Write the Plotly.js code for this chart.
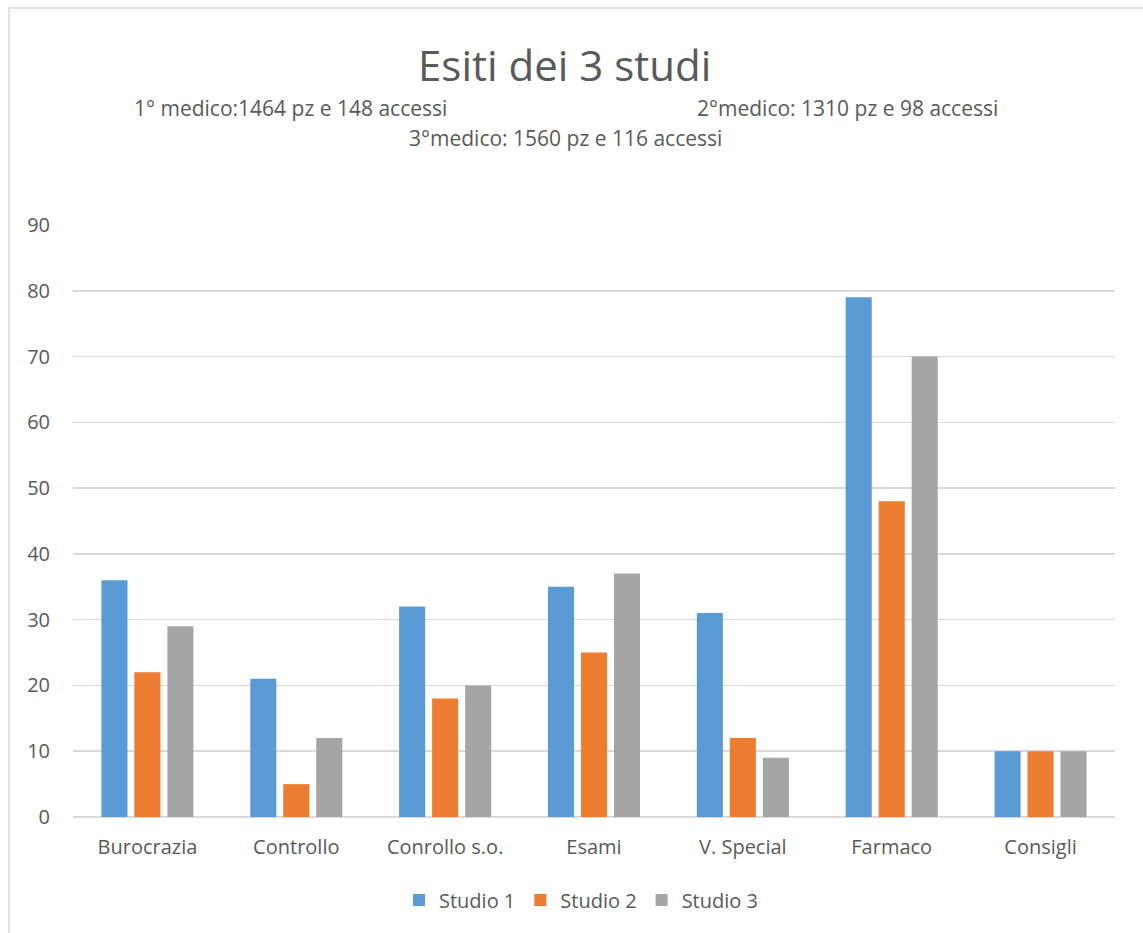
<!DOCTYPE html>
<html>
<head>
<meta charset="utf-8">
<script src="https://cdn.plot.ly/plotly-3.0.1.min.js"></script>
<style>
  html, body { margin: 0; padding: 0; background: #ffffff; }
  #chart { width: 1143px; height: 933px; }
</style>
</head>
<body>
<div id="chart"></div>
<script>
// Categories of visit outcome
const categories = ["Burocrazia", "Controllo", "Conrollo s.o.", "Esami", "V. Special", "Farmaco", "Consigli"];

// Counts per practice
const studio1 = [36, 21, 32, 35, 31, 79, 10];
const studio2 = [22, 5, 18, 25, 12, 48, 10];
const studio3 = [29, 12, 20, 37, 9, 70, 10];

const seriesNames = ["Studio 1", "Studio 2", "Studio 3"];
const seriesColors = ["#5B9BD5", "#ED7D31", "#A5A5A5"];

const yTicks = [0, 10, 20, 30, 40, 50, 60, 70, 80, 90];

const titleText = "Esiti dei 3 studi";
const subtitle1 = "1° medico:1464 pz e 148 accessi";
const subtitle2 = "2°medico: 1310 pz e 98 accessi";
const subtitle3 = "3°medico: 1560 pz e 116 accessi";

const fontFamily = "Open Sans, Noto Sans, sans-serif";
const textColor = "#595959";

const traces = [studio1, studio2, studio3].map((vals, i) => ({
  type: "bar",
  name: seriesNames[i],
  x: categories,
  y: vals,
  marker: { color: seriesColors[i] },
  hoverinfo: "x+y+name"
}));

// plot area spans x 73..1115 and y 225..817 on the page
const px = x => (x - 73) / 1042;
const py = y => (817 - y) / 592;

const layout = {
  width: 1143,
  height: 933,
  margin: { l: 73, r: 28, t: 225, b: 116 },
  paper_bgcolor: "#ffffff",
  plot_bgcolor: "#ffffff",
  barmode: "group",
  bargap: 0.335,
  bargroupgap: 0.21,
  font: { family: fontFamily, color: textColor },
  title: {
    text: titleText,
    font: { family: fontFamily, size: 42, color: textColor },
    x: 0.494,
    xanchor: "center",
    y: 0.929,
    yanchor: "middle"
  },
  xaxis: {
    type: "category",
    showgrid: false,
    showline: false,
    zeroline: false,
    ticks: "",
    tickfont: { family: fontFamily, size: 20, color: textColor },
    ticklabelstandoff: 16
  },
  yaxis: {
    range: [0, 90],
    tickmode: "array",
    tickvals: yTicks,
    ticktext: yTicks.map(String),
    showgrid: true,
    gridcolor: "#d9d9d9",
    gridwidth: 1.5,
    zeroline: true,
    zerolinecolor: "#d9d9d9",
    zerolinewidth: 1.5,
    showline: false,
    ticks: "",
    tickfont: { family: fontFamily, size: 20, color: textColor },
    ticklabelstandoff: 22
  },
  legend: {
    orientation: "h",
    x: px(581),
    xanchor: "center",
    y: py(900),
    yanchor: "middle",
    font: { family: fontFamily, size: 20, color: textColor },
    itemwidth: 30,
    traceorder: "normal"
  },
  annotations: [
    { text: subtitle1, xref: "paper", yref: "paper", x: px(290), y: py(108),
      showarrow: false, xanchor: "center", yanchor: "middle", font: { family: fontFamily, size: 21, color: textColor } },
    { text: subtitle2, xref: "paper", yref: "paper", x: px(847), y: py(108),
      showarrow: false, xanchor: "center", yanchor: "middle", font: { family: fontFamily, size: 21, color: textColor } },
    { text: subtitle3, xref: "paper", yref: "paper", x: px(565), y: py(138),
      showarrow: false, xanchor: "center", yanchor: "middle", font: { family: fontFamily, size: 21, color: textColor } }
  ],
  shapes: [
    { type: "rect", xref: "paper", yref: "paper", layer: "below",
      x0: px(9), x1: px(1150),
      y0: py(945), y1: py(8),
      line: { color: "#d9d9d9", width: 1.5 }, fillcolor: "rgba(0,0,0,0)" }
  ],
  showlegend: true
};

Plotly.newPlot("chart", traces, layout, { displayModeBar: false, staticPlot: true });
</script>
</body>
</html>
